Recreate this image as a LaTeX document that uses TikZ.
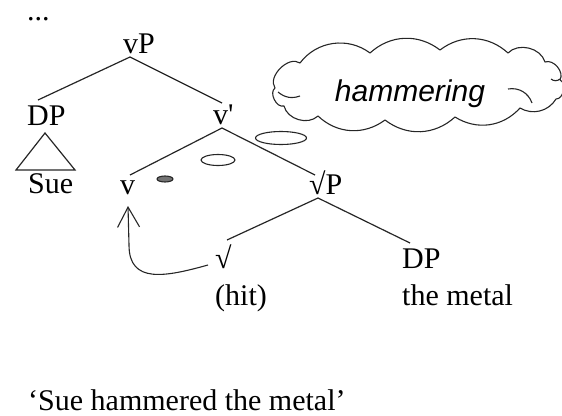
\documentclass[tikz,border=0pt]{standalone}
\usepackage{fontspec}
\setmainfont{Liberation Serif}
\newfontfamily\rawserif{Liberation Serif}
\newfontfamily\cloudfont{Liberation Sans}
\usetikzlibrary{arrows.meta,shapes.geometric}
\begin{document}
\begin{tikzpicture}[x=1pt,y=-1pt,
  lbl/.style={anchor=base west,inner sep=0pt,font=\fontsize{30}{36}\selectfont},
  branch/.style={line width=1.2pt,draw=black!85},
  bubble/.style={line width=1.1pt,draw=black!85}]
\useasboundingbox (0,0) rectangle (562,415);

% labels of the tree
\node[lbl] (dots) at (27,20) {...};
\node[lbl] (vP) at (123,53) {vP};
\node[lbl] (DP1) at (27,125) {DP};
\node[lbl] (Sue) at (28,193) {Sue};
\node[lbl] (vbar) at (213,124) {v{\rawserif '}};
\node[lbl] (v) at (120,194) {v};
\node[lbl] (rootP) at (309,194) {√P};
\node[lbl] (root) at (215,268) {√};
\node[lbl] (hit) at (215,305) {(hit)};
\node[lbl] (DP2) at (402,268) {DP};
\node[lbl] (metal) at (402,305) {the metal};
\node[lbl] (gloss) at (28,410) {‘Sue hammered the metal’};

% branch points
\coordinate (vP-b) at (130,57);
\coordinate (DP1-t) at (38,100);
\coordinate (vbar-t) at (222,103);
\coordinate (vbar-b) at (222,128);
\coordinate (v-t) at (130,175);
\coordinate (rootP-t) at (315,175);
\coordinate (rootP-b) at (318,198);
\coordinate (root-t) at (227,240);
\coordinate (DP2-t) at (410,243);

\draw[branch] (DP1-t) -- (vP-b) -- (vbar-t);
\draw[branch] (v-t) -- (vbar-b) -- (rootP-t);
\draw[branch] (root-t) -- (rootP-b) -- (DP2-t);

% triangle over "Sue"
\coordinate (tri-a) at (45,133);
\coordinate (tri-l) at (16,170);
\coordinate (tri-r) at (75,170);
\draw[branch] (tri-l) -- (tri-a) -- (tri-r) -- cycle;

% head movement of the root to v
\coordinate (root-l) at (208,265);
\coordinate (v-b) at (128,206);
\draw[line width=1.1pt,draw=black!85,-{Straight Barb[length=20pt,width=22pt,line width=1.1pt]}]
  (root-l) .. controls (165,277) and (129,284) .. (129,245) -- (v-b);

% thought bubbles leading to the cloud
\node[bubble,fill=black!55,ellipse,minimum width=16pt,minimum height=6pt,inner sep=0pt] (b1) at (165,179) {};
\node[bubble,ellipse,minimum width=34pt,minimum height=11pt,inner sep=0pt] (b2) at (218,160) {};
\node[bubble,ellipse,minimum width=51pt,minimum height=13pt,inner sep=0pt] (b3) at (281,138) {};

% the cloud, puff by puff
\draw[bubble,line join=round]
  (300,63) to[bend left=45] (370,53)
           to[bend left=40] (440,50)
           to[bend left=40] (508,53)
           to[bend left=60] (545,62)
           to[bend left=70] (560,80)
           to[bend left=80] (556,99)
           to[bend left=45] (520,108)
           to[bend left=40] (455,117)
           to[bend left=40] (385,120)
           to[bend left=40] (318,116)
           to[bend left=60] (284,106)
           to[bend left=80] (275,88)
           to[bend left=80] (300,63) -- cycle;
% inner creases of the cloud
\draw[bubble] (278,92) to[bend right=30] (300,96);
\draw[bubble] (508,89) to[bend left=40] (532,103);
\draw[bubble] (551,79) to[bend right=40] (560,79);
\node[anchor=base,inner sep=0pt,font=\cloudfont\itshape\fontsize{30}{36}\selectfont] (hammering) at (410,101) {hammering};
\end{tikzpicture}
\end{document}
